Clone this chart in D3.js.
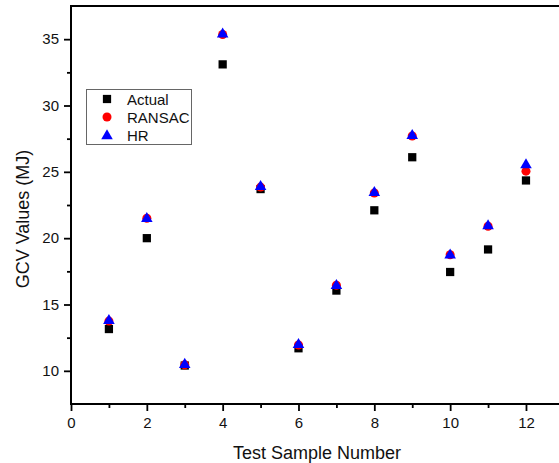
<!DOCTYPE html>
<html><head><meta charset="utf-8">
<script src="https://cdn.jsdelivr.net/npm/d3@7"></script>
<style>body{margin:0;background:#fff;} svg{display:block;font-family:Arial,"Liberation Sans",sans-serif;}</style>
</head><body>
<svg id="c" width="559" height="463"></svg>
<script>
const samples = [1,2,3,4,5,6,7,8,9,10,11,12];
const actual = [13.15,20.0,10.4,33.1,23.7,11.7,16.05,22.1,26.1,17.45,19.15,24.35];
const ransac = [13.75,21.5,10.45,35.35,23.85,11.95,16.45,23.4,27.7,18.75,20.9,25.05];
const hr     = [13.85,21.55,10.55,35.45,23.95,12.05,16.5,23.5,27.8,18.8,21.0,25.6];
const xTicks = [0,2,4,6,8,10,12];
const yTicks = [10,15,20,25,30,35];
const seriesNames = ["Actual","RANSAC","HR"];

const svg = d3.select("#c");
const L=71, T=6, B=404, R=562;
const x = d3.scaleLinear().domain([0,12.95]).range([L,R]);
const y = d3.scaleLinear().domain([7.5,37.5]).range([B,T]);

svg.append("g").attr("transform",`translate(0,${B})`)
  .call(d3.axisBottom(x).tickValues(d3.range(1,13,2)).tickSize(4).tickFormat(""));
svg.append("g").attr("transform",`translate(0,${B})`)
  .call(d3.axisBottom(x).tickValues(xTicks).tickSize(7).tickPadding(6).tickFormat(d3.format("d")));
svg.append("g").attr("transform",`translate(${L},0)`)
  .call(d3.axisLeft(y).tickValues(d3.range(12.5,37.5,5)).tickSize(4).tickFormat(""));
svg.append("g").attr("transform",`translate(${L},0)`)
  .call(d3.axisLeft(y).tickValues(yTicks).tickSize(7).tickPadding(5).tickFormat(d3.format("d")));
svg.selectAll(".domain").remove();
svg.selectAll(".tick line").attr("stroke","#000").attr("stroke-width",1.8);
svg.selectAll(".tick text").attr("font-size",15).attr("fill","#111");

svg.append("line").attr("x1",L).attr("x2",559).attr("y1",B).attr("y2",B).attr("stroke","#000").attr("stroke-width",2);
svg.append("line").attr("x1",L).attr("x2",L).attr("y1",T).attr("y2",B+1).attr("stroke","#000").attr("stroke-width",2);
svg.append("line").attr("x1",L-1).attr("x2",559).attr("y1",T).attr("y2",T).attr("stroke","#000").attr("stroke-width",2);

svg.append("text").attr("x",317).attr("y",459).attr("text-anchor","middle").attr("font-size",18).attr("fill","#111").text("Test Sample Number");
svg.append("text").attr("transform",`translate(29,219) rotate(-90)`).attr("text-anchor","middle").attr("font-size",18).attr("fill","#111").text("GCV Values (MJ)");

const sq = d3.symbol().type(d3.symbolSquare).size(68);
const ci = d3.symbol().type(d3.symbolCircle).size(64);
const tr = d3.symbol().type(d3.symbolTriangle).size(58);

svg.append("g").selectAll("path").data(samples).join("path")
  .attr("d",sq).attr("fill","#000").attr("transform",(d,i)=>`translate(${x(d)},${y(actual[i])})`);
svg.append("g").selectAll("path").data(samples).join("path")
  .attr("d",ci).attr("fill","#ff0000").attr("transform",(d,i)=>`translate(${x(d)},${y(ransac[i])})`);
svg.append("g").selectAll("path").data(samples).join("path")
  .attr("d",tr).attr("fill","#0000ff").attr("transform",(d,i)=>`translate(${x(d)},${y(hr[i])+1})`);

const lg = svg.append("g");
lg.append("rect").attr("x",86.5).attr("y",89.5).attr("width",105).attr("height",55).attr("fill","#fff").attr("stroke","#666").attr("stroke-width",1);
const syms=[sq,ci,tr], cols=["#000","#ff0000","#0000ff"];
seriesNames.forEach((n,i)=>{
  const yy = 99 + i*18;
  lg.append("path").attr("d",syms[i]).attr("fill",cols[i]).attr("transform",`translate(107,${yy + (i==2?1:0)})`);
  lg.append("text").attr("x",127).attr("y",yy+5.5).attr("font-size",15).attr("fill","#111").text(n);
});
</script>
</body></html>
